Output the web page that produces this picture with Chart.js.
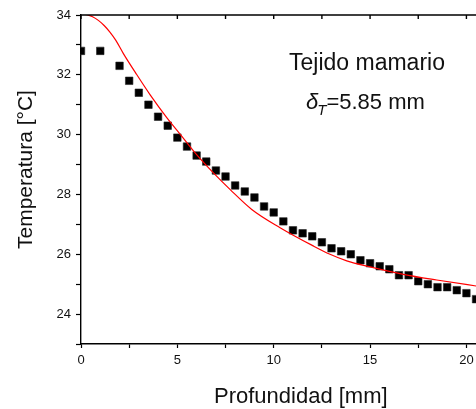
<!DOCTYPE html>
<html>
<head>
<meta charset="utf-8">
<script src="https://cdn.jsdelivr.net/npm/chart.js@4.4.1/dist/chart.umd.min.js"></script>
<style>
    html, body { margin: 0; padding: 0; overflow: hidden; background: #fff; }
    #wrap { width: 530px; height: 409px; }
</style>
</head>
<body>
<div id="wrap"><canvas id="tempChart" width="530" height="409"></canvas></div>
<script>
// Datos medidos (profundidad en mm, temperatura en °C)
const depth = [0, 1, 2, 2.5, 3, 3.5, 4, 4.5, 5, 5.5, 6, 6.5, 7, 7.5, 8, 8.5, 9, 9.5, 10, 10.5,
    11, 11.5, 12, 12.5, 13, 13.5, 14, 14.5, 15, 15.5, 16, 16.5, 17, 17.5, 18, 18.5, 19, 19.5, 20, 20.5];
const measuredTemp = [32.8, 32.8, 32.3, 31.8, 31.4, 31.0, 30.6, 30.3, 29.9, 29.6, 29.3, 29.1, 28.8, 28.6, 28.3, 28.1, 27.9, 27.6, 27.4, 27.1,
    26.8, 26.7, 26.6, 26.4, 26.2, 26.1, 26.0, 25.8, 25.7, 25.6, 25.5, 25.3, 25.3, 25.1, 25.0, 24.9, 24.9, 24.8, 24.7, 24.5];

// Curva de ajuste
const fitDepth = [0, 0.3, 0.6, 0.9, 1.2, 1.5, 1.8, 2.2, 2.89, 3.58, 4.45, 5.14, 6.0, 6.87, 7.73, 8.86, 10.33, 12.05, 12.92, 13.79, 15.0, 16.73, 18.46, 20.5, 22.5];
const fitTemp = [34.04, 34.01, 33.94, 33.82, 33.65, 33.43, 33.16, 32.71, 32.01, 31.34, 30.57, 30.02, 29.33, 28.72, 28.17, 27.5, 26.89, 26.28, 26.0, 25.78, 25.58, 25.33, 25.14, 24.94, 24.75];

// Marcas de los ejes
const xMajorTicks = [0, 5, 10, 15, 20];
const xTickLabels = ['0', '5', '10', '15', '20'];
const xMinorTicks = [2.5, 7.5, 12.5, 17.5, 22.5];
const yMajorTicks = [24, 26, 28, 30, 32, 34];
const yTickLabels = ['24', '26', '28', '30', '32', '34'];
const yMinorTicks = [23, 25, 27, 29, 31, 33];

const xTitle = 'Profundidad [mm]';
const yTitle = 'Temperatura [°C]';
const noteTitle = 'Tejido mamario';
const noteValue = '=5.85 mm';

const FONT = '"Liberation Sans", Arial, Helvetica, sans-serif';

function buildTicks(major, minor) {
    return [...major, ...minor].sort((a, b) => a - b).map((v) => ({ value: v }));
}

/**
 * Dibuja el borde superior, los títulos de los ejes y el texto del recuadro.
 */
const decorPlugin = {
    id: 'decor',
    afterDraw(chart) {
        const { ctx, chartArea } = chart;
        const xScale = chart.scales.x;
        ctx.save();
        // borde superior con marcas hacia adentro
        ctx.strokeStyle = '#000';
        ctx.lineWidth = 1.4;
        ctx.beginPath();
        ctx.moveTo(chartArea.left - 0.7, chartArea.top);
        ctx.lineTo(chartArea.right, chartArea.top);
        buildTicks(xMajorTicks, xMinorTicks).forEach((t) => {
            const px = xScale.getPixelForValue(t.value);
            ctx.moveTo(px, chartArea.top);
            ctx.lineTo(px, chartArea.top + 4);
        });
        ctx.stroke();

        ctx.fillStyle = '#111';
        // título eje X
        ctx.font = `22px ${FONT}`;
        ctx.textAlign = 'left';
        ctx.textBaseline = 'alphabetic';
        ctx.fillText(xTitle, 214, 403);
        // título eje Y
        ctx.save();
        ctx.translate(32, 249);
        ctx.rotate(-Math.PI / 2);
        ctx.font = `21px ${FONT}`;
        ctx.fillText(yTitle, 0, 0);
        ctx.restore();

        // anotación
        ctx.font = `23px ${FONT}`;
        ctx.textAlign = 'center';
        ctx.fillText(noteTitle, 367, 70);
        ctx.textAlign = 'left';
        let x = 306;
        ctx.font = `italic 22px ${FONT}`;
        ctx.fillText('δ', x, 109);
        x += ctx.measureText('δ').width - 1;
        ctx.font = `italic 15px ${FONT}`;
        ctx.fillText('T', x, 115);
        x += ctx.measureText('T').width;
        ctx.font = `22px ${FONT}`;
        ctx.fillText(noteValue, x, 109);
        ctx.restore();
    },
};

const ctx = document.getElementById('tempChart').getContext('2d');
window.tempChart = new Chart(ctx, {
    type: 'line',
    data: {
        datasets: [
            {
                label: 'Ajuste',
                data: fitDepth.map((x, i) => ({ x, y: fitTemp[i] })),
                borderColor: '#ff0000',
                borderWidth: 1.2,
                pointRadius: 0,
                cubicInterpolationMode: 'monotone',
                fill: false,
                clip: 0,
                order: 0,
            },
            {
                label: 'Medido',
                data: depth.map((x, i) => ({ x, y: measuredTemp[i] })),
                showLine: false,
                pointStyle: 'rect',
                pointRadius: 5.3,
                pointBackgroundColor: '#000',
                pointBorderColor: '#222',
                pointBorderWidth: 0.6,
                clip: 1,
                order: 1,
            },
        ],
    },
    options: {
        responsive: false,
        animation: false,
        devicePixelRatio: 1,
        layout: { padding: { top: 15, right: 15.4, left: 0, bottom: 0 } },
        plugins: {
            legend: { display: false },
            tooltip: { enabled: false },
        },
        scales: {
            x: {
                type: 'linear',
                min: 0,
                max: 22.5,
                afterFit: (s) => { s.height = 65; },
                afterBuildTicks: (s) => { s.ticks = buildTicks(xMajorTicks, xMinorTicks); },
                border: { display: true, color: '#000', width: 1.4 },
                grid: { drawOnChartArea: false, drawTicks: true, tickLength: 4, color: '#000', tickWidth: 1.2 },
                ticks: {
                    padding: 5,
                    color: '#111',
                    font: { family: FONT, size: 13 },
                    maxRotation: 0,
                    autoSkip: false,
                    callback: (v) => {
                        const i = xMajorTicks.indexOf(v);
                        return i >= 0 ? xTickLabels[i] : '';
                    },
                },
            },
            y: {
                type: 'linear',
                min: 23,
                max: 34,
                afterFit: (s) => { s.width = 81; },
                afterBuildTicks: (s) => { s.ticks = buildTicks(yMajorTicks, yMinorTicks); },
                border: { display: true, color: '#000', width: 1.4 },
                grid: { drawOnChartArea: false, drawTicks: true, tickLength: 5, color: '#000', tickWidth: 1.2 },
                ticks: {
                    padding: 5,
                    color: '#111',
                    font: { family: FONT, size: 13 },
                    autoSkip: false,
                    callback: (v) => {
                        const i = yMajorTicks.indexOf(v);
                        return i >= 0 ? yTickLabels[i] : '';
                    },
                },
            },
        },
    },
    plugins: [decorPlugin],
});
</script>
</body>
</html>
